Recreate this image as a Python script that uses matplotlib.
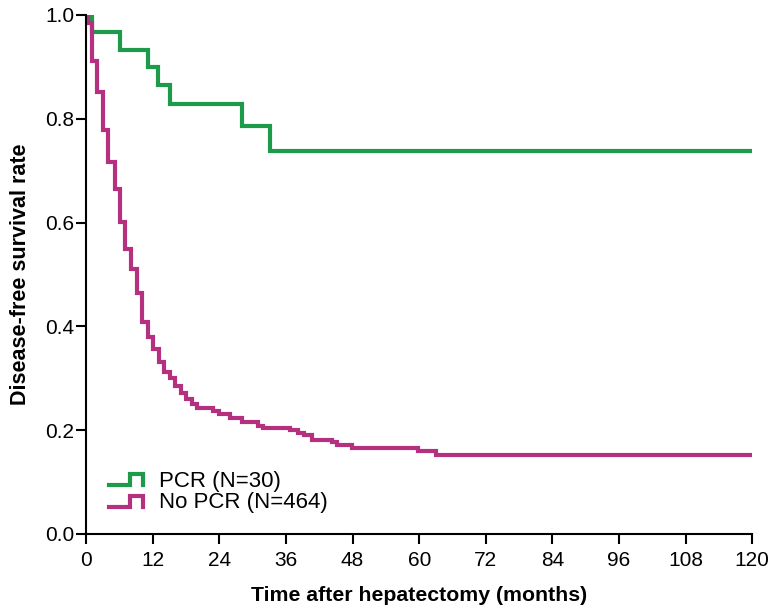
import matplotlib
matplotlib.use("Agg")
import matplotlib.pyplot as plt
from matplotlib.lines import Line2D
from matplotlib.legend_handler import HandlerBase

plt.rcParams['font.family'] = ['Liberation Sans', 'DejaVu Sans']

# step curves: (time in months, survival after the drop)
pcr_t = [0, 1.1, 6.1, 11.1, 13.0, 15.0, 28.0, 33.1, 120]
pcr_s = [1.0, 0.967, 0.933, 0.900, 0.866, 0.828, 0.787, 0.737, 0.737]

nopcr_t = [0, 0.3, 1.0, 2.0, 3.1, 4.0, 5.1, 6.1, 7.0, 8.0, 9.1, 10.1, 11.2, 12.1,
           13.1, 14.0, 15.0, 16.0, 17.0, 18.0, 19.0, 19.9, 22.9, 24.0, 25.9,
           28.0, 31.0, 31.8, 36.7, 38.2, 39.2, 40.6, 44.2, 45.1, 47.8, 59.8,
           63.0, 120]
nopcr_s = [1.0, 0.985, 0.912, 0.852, 0.778, 0.717, 0.665, 0.602, 0.549, 0.510,
           0.464, 0.409, 0.380, 0.356, 0.331, 0.313, 0.300, 0.286, 0.271, 0.261,
           0.250, 0.242, 0.236, 0.231, 0.223, 0.216, 0.209, 0.205, 0.200, 0.195,
           0.191, 0.181, 0.177, 0.171, 0.165, 0.160, 0.152, 0.152]

labels = ["PCR (N=30)", "No PCR (N=464)"]
green = "#1e9a4b"
magenta = "#b5317f"


class StepHandler(HandlerBase):
    # legend icon drawn as a little step like in the original
    def create_artists(self, legend, orig, xd, yd, w, h, fontsize, trans):
        lo, hi = -yd + 0.1 * h, -yd + 0.8 * h
        x0 = -xd
        xs = [x0, x0 + 0.6 * w, x0 + 0.6 * w, x0 + w, x0 + w]
        ys = [lo, lo, hi, hi, lo]
        ln = Line2D(xs, ys, color=orig.get_color(), lw=orig.get_linewidth(),
                    solid_joinstyle="miter", transform=trans)
        return [ln]


fig = plt.figure(figsize=(7.76, 6.09), dpi=100)
ax = fig.add_axes([0.1112, 0.1232, 0.858, 0.8522])

l1, = ax.step(pcr_t, pcr_s, where="post", color=green, lw=3, label=labels[0],
              solid_joinstyle="miter")
l2, = ax.step(nopcr_t, nopcr_s, where="post", color=magenta, lw=3, label=labels[1],
              solid_joinstyle="miter")

ax.set_xlim(0, 120)
ax.set_ylim(0, 1.0)
ax.set_xticks(range(0, 121, 12))
ax.set_yticks([0.0, 0.2, 0.4, 0.6, 0.8, 1.0])
ax.set_yticklabels(["0.0", "0.2", "0.4", "0.6", "0.8", "1.0"])
for s in ["top", "right"]:
    ax.spines[s].set_visible(False)
for s in ["left", "bottom"]:
    ax.spines[s].set_linewidth(1.5)
ax.tick_params(direction="out", length=7.5, width=1.5, labelsize=15)
ax.tick_params(axis="x", pad=5)
ax.tick_params(axis="y", pad=1)

ax.set_xlabel("Time after hepatectomy (months)", fontsize=15.3, fontweight="bold", labelpad=11)
ax.set_ylabel("Disease-free survival rate", fontsize=15.5, fontweight="bold", labelpad=10)

ax.legend(handles=[l1, l2], loc="lower left", bbox_to_anchor=(0.034, 0.040),
          frameon=False, fontsize=16, borderpad=0, borderaxespad=0,
          handlelength=1.55, handletextpad=0.7, labelspacing=0.02,
          handler_map={Line2D: StepHandler()})

fig.savefig("out.png", dpi=100)
